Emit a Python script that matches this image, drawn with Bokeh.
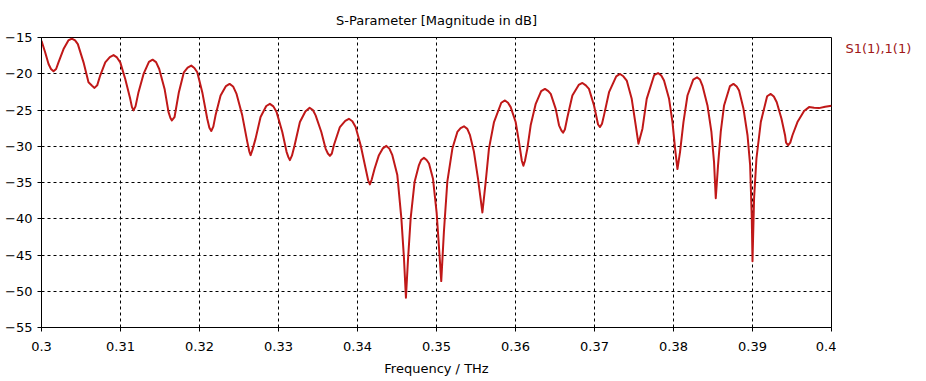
from bokeh.plotting import figure
from bokeh.layouts import row
from bokeh.models import Range1d, FixedTicker, NumeralTickFormatter
from bokeh.core.properties import value
from bokeh.embed import file_html
from bokeh.resources import INLINE

# ---- data (Frequency in THz, S11 in dB) ----
freq = [
    0.30000, 0.30047, 0.30089, 0.30120, 0.30152, 0.30185, 0.30215, 0.30279, 0.30340, 0.30384,
    0.30425, 0.30460, 0.30532, 0.30595, 0.30640, 0.30671, 0.30705, 0.30743, 0.30807, 0.30865,
    0.30912, 0.30955, 0.30997, 0.31060, 0.31123, 0.31145, 0.31165, 0.31190, 0.31228, 0.31292,
    0.31360, 0.31406, 0.31450, 0.31490, 0.31558, 0.31608, 0.31632, 0.31650, 0.31684, 0.31739,
    0.31802, 0.31850, 0.31896, 0.31935, 0.31972, 0.32035, 0.32098, 0.32125, 0.32149, 0.32175,
    0.32203, 0.32267, 0.32335, 0.32381, 0.32425, 0.32469, 0.32541, 0.32605, 0.32630, 0.32647,
    0.32670, 0.32710, 0.32773, 0.32845, 0.32891, 0.32935, 0.32976, 0.33048, 0.33102, 0.33125,
    0.33144, 0.33170, 0.33204, 0.33271, 0.33340, 0.33394, 0.33435, 0.33470, 0.33542, 0.33596,
    0.33625, 0.33651, 0.33675, 0.33701, 0.33777, 0.33845, 0.33891, 0.33935, 0.33976, 0.34040,
    0.34103, 0.34135, 0.34157, 0.34180, 0.34217, 0.34271, 0.34320, 0.34365, 0.34405, 0.34441,
    0.34504, 0.34555, 0.34588, 0.34613, 0.34638, 0.34673, 0.34723, 0.34778, 0.34805, 0.34841,
    0.34875, 0.34905, 0.34955, 0.35002, 0.35035, 0.35060, 0.35094, 0.35137, 0.35201, 0.35264,
    0.35305, 0.35348, 0.35390, 0.35424, 0.35474, 0.35525, 0.35581, 0.35623, 0.35664, 0.35728,
    0.35820, 0.35867, 0.35905, 0.35939, 0.36002, 0.36044, 0.36080, 0.36100, 0.36120, 0.36150,
    0.36192, 0.36256, 0.36325, 0.36373, 0.36415, 0.36446, 0.36509, 0.36551, 0.36580, 0.36602,
    0.36625, 0.36657, 0.36720, 0.36800, 0.36847, 0.36890, 0.36930, 0.36994, 0.37045, 0.37070,
    0.37095, 0.37120, 0.37184, 0.37275, 0.37323, 0.37365, 0.37408, 0.37471, 0.37522, 0.37556,
    0.37607, 0.37661, 0.37755, 0.37804, 0.37845, 0.37880, 0.37944, 0.37987, 0.38020, 0.38050,
    0.38083, 0.38126, 0.38177, 0.38250, 0.38298, 0.38335, 0.38366, 0.38430, 0.38480, 0.38513,
    0.38535, 0.38564, 0.38598, 0.38640, 0.38715, 0.38759, 0.38800, 0.38830, 0.38886, 0.38937,
    0.38970, 0.38991, 0.39000, 0.39020, 0.39050, 0.39105, 0.39185, 0.39231, 0.39270, 0.39307,
    0.39367, 0.39412, 0.39425, 0.39450, 0.39478, 0.39506, 0.39569, 0.39653, 0.39716, 0.39780,
    0.39842, 0.39920, 0.40000,
]
s11_db = [
    -15.45, -17.06, -18.66, -19.35, -19.66, -19.35, -18.43, -16.60, -15.40, -15.14,
    -15.40, -15.92, -18.43, -21.17, -21.65, -21.95, -21.60, -20.25, -18.43, -17.70,
    -17.43, -17.75, -18.43, -20.72, -23.46, -24.60, -25.05, -24.50, -22.54, -20.03,
    -18.35, -18.06, -18.40, -19.35, -22.09, -25.29, -26.10, -26.43, -25.97, -22.54,
    -19.80, -19.15, -18.88, -19.20, -19.80, -22.54, -26.21, -27.45, -27.89, -27.30,
    -25.74, -23.00, -21.70, -21.40, -21.75, -22.78, -25.74, -29.40, -30.70, -31.23,
    -30.50, -28.95, -25.97, -24.45, -24.15, -24.50, -25.29, -28.03, -30.77, -31.50,
    -31.91, -31.30, -29.86, -26.66, -25.20, -24.70, -25.00, -25.74, -28.03, -30.32,
    -31.00, -31.32, -31.00, -29.86, -27.35, -26.50, -26.21, -26.55, -27.35, -29.86,
    -33.07, -34.70, -35.26, -34.60, -33.07, -31.23, -30.30, -29.95, -30.35, -31.23,
    -33.97, -39.92, -45.41, -50.90, -45.86, -39.92, -34.89, -32.60, -31.90, -31.60,
    -31.90, -32.38, -34.44, -39.20, -44.50, -48.60, -41.75, -34.89, -30.32, -28.03,
    -27.50, -27.25, -27.60, -28.48, -30.77, -34.44, -39.14, -34.89, -30.32, -26.66,
    -24.00, -23.68, -24.00, -24.60, -26.66, -29.40, -32.00, -32.70, -32.00, -30.32,
    -27.11, -24.15, -22.40, -22.09, -22.40, -22.78, -24.84, -27.11, -27.80, -28.13,
    -27.70, -26.00, -23.00, -21.55, -21.27, -21.60, -22.09, -24.37, -27.00, -27.35,
    -26.90, -25.74, -22.54, -20.35, -20.03, -20.35, -20.94, -23.46, -27.11, -29.64,
    -27.58, -23.46, -20.20, -19.90, -20.25, -20.94, -23.46, -26.66, -30.32, -33.15,
    -30.77, -26.66, -23.00, -20.80, -20.50, -20.80, -21.63, -24.37, -28.03, -32.15,
    -37.18, -32.60, -28.03, -24.37, -21.70, -21.40, -21.75, -22.31, -24.84, -28.48,
    -32.60, -39.92, -45.86, -37.18, -31.69, -26.66, -23.10, -22.78, -23.15, -23.92,
    -26.21, -28.48, -29.50, -29.86, -29.50, -28.48, -26.66, -25.15, -24.60, -24.70,
    -24.74, -24.55, -24.40,
]
assert len(freq) == len(s11_db)

x_ticks = [0.3, 0.31, 0.32, 0.33, 0.34, 0.35, 0.36, 0.37, 0.38, 0.39, 0.4]
y_ticks = [-55, -50, -45, -40, -35, -30, -25, -20, -15]
title_text = "S-Parameter [Magnitude in dB]"
x_title = "Frequency / THz"
series_name = "S1(1),1(1)"

FONT = "DejaVu Sans"
LINE_COLOR = "#C01818"
LEGEND_COLOR = "#A01818"
H = 378

p = figure(
    width=836, height=H,
    output_backend="svg", toolbar_location=None,
    x_range=Range1d(0.3, 0.4), y_range=Range1d(-55, -15),
    min_border_left=41, min_border_right=5, min_border_top=35, min_border_bottom=51,
    title=title_text,
)
p.background_fill_color = "white"
p.border_fill_color = "white"
p.outline_line_color = "black"
p.outline_line_width = 1

p.title.align = "center"
p.title.text_font = FONT
p.title.text_font_size = "13px"
p.title.text_font_style = "normal"
p.title.text_color = "black"
p.title.standoff = 20

for ax in (p.xaxis[0], p.yaxis[0]):
    ax.axis_line_color = "black"
    ax.major_tick_line_color = "black"
    ax.major_tick_in = 0
    ax.major_tick_out = 4
    ax.minor_tick_line_color = None
    ax.major_label_text_font = FONT
    ax.major_label_text_font_size = "13px"
    ax.major_label_text_color = "black"

p.xaxis.ticker = FixedTicker(ticks=x_ticks)
p.yaxis.ticker = FixedTicker(ticks=y_ticks)
p.xaxis.formatter = NumeralTickFormatter(format="0.[00]")
p.xaxis.major_label_standoff = 10
p.yaxis.major_label_standoff = 5
p.xaxis.axis_label = x_title
p.xaxis.axis_label_text_font = FONT
p.xaxis.axis_label_text_font_size = "13px"
p.xaxis.axis_label_text_font_style = "normal"
p.xaxis.axis_label_text_color = "black"
p.xaxis.axis_label_standoff = 7

p.grid.grid_line_color = "black"
p.grid.grid_line_dash = "3 3"
p.grid.grid_line_width = 1

p.line(freq, s11_db, line_color=LINE_COLOR, line_width=2, line_join="round")

# side panel holding the series name (legend text of the reference)
side = figure(
    width=82, height=H,
    output_backend="svg", toolbar_location=None,
    x_range=Range1d(0, 82), y_range=Range1d(0, H),
    x_axis_location=None, y_axis_location=None,
    min_border=0,
)
side.title.visible = False
side.grid.visible = False
side.outline_line_color = None
side.background_fill_color = "white"
side.border_fill_color = "white"
side.text(x=[9], y=[H - 14], text=[series_name],
          text_font=value(FONT), text_font_size="13px", text_color=LEGEND_COLOR,
          text_baseline="middle", text_align="left")

layout = row(p, side, spacing=0)
open("out.html", "w").write(file_html(layout, INLINE))
